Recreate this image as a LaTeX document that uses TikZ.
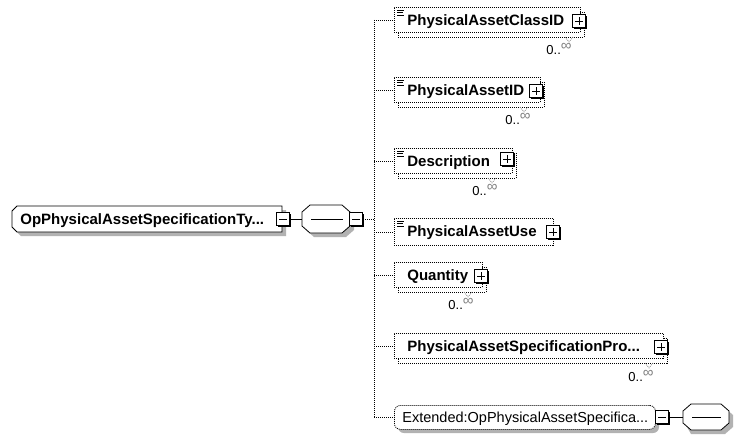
\documentclass[tikz,border=0pt]{standalone}
\usepackage{fontspec}
\setmainfont{Liberation Sans}
\usetikzlibrary{calc,shadows}
\newcommand\eqicon[1]{\draw[line width=0.6pt] ([shift={(3,3)}]#1.north west) -- ++(7,0) ([shift={(3,5.5)}]#1.north west) -- ++(6,0) ([shift={(3,8)}]#1.north west) -- ++(7,0);}
\newcommand\infsym{\raisebox{3.5pt}{\fontsize{15}{15}\selectfont\color{black!50}∞}}
\begin{document}
\begin{tikzpicture}[x=1pt,y=-1pt,line width=0.8pt,
  dots/.style={line width=0.8pt, dash pattern=on 1pt off 1pt},
  gdots/.style={line width=0.7pt, dash pattern=on 1pt off 1pt, draw=black!45},
  elbox/.style={draw, dots, fill=white, inner sep=0pt, anchor=north west, rectangle},
  shade/.style={fill=black!30, draw=none},
  bt/.style={font=\fontsize{15}{18}\selectfont\bfseries, inner sep=0pt, anchor=base west},
  rt/.style={font=\fontsize{14.5}{18}\selectfont, inner sep=0pt, anchor=base west},
  mult/.style={font=\fontsize{13}{15}\selectfont, inner sep=0pt, anchor=base west},
  pm/.style={draw, solid, fill=white, line width=0.8pt, minimum size=13pt, inner sep=0pt,
    general shadow={fill=black, shadow xshift=1.5pt, shadow yshift=-1.5pt}},
  plusb/.style={pm, path picture={\draw[line width=0.8pt]
      ($(path picture bounding box.west)+(2.5,0)$) -- ($(path picture bounding box.east)+(-2.5,0)$)
      ($(path picture bounding box.north)+(0,2.5)$) -- ($(path picture bounding box.south)+(0,-2.5)$);}},
  minusb/.style={pm, path picture={\draw[line width=0.8pt]
      ($(path picture bounding box.west)+(2.5,0)$) -- ($(path picture bounding box.east)+(-2.5,0)$);}}
]
\useasboundingbox[fill=white] (0,0) rectangle (754,442);

% ---------- root element ----------
\fill[shade] (21,210) -- (286,210) -- (286,236) -- (21,236) -- (16,231) -- (16,215) -- cycle;
\draw[fill=white] (17,206) -- (282,206) -- (282,232) -- (17,232) -- (12,227) -- (12,211) -- cycle;
\node[bt] (root) at (20,224) {OpPhysicalAssetSpecificationTy...};
\node[minusb] (rm) at (283,219) {};

% ---------- sequence compositor ----------
\fill[shade] (314,209) -- (346,209) -- (354,216) -- (354,230) -- (346,237) -- (314,237) -- (306,230) -- (306,216) -- cycle;
\draw[fill=white] (310,205) -- (342,205) -- (350,212) -- (350,226) -- (342,233) -- (310,233) -- (302,226) -- (302,212) -- cycle;
\coordinate (sqW) at (302,219);
\draw (311,219) -- (343,219);
\node[minusb] (sm) at (356,219) {};
\draw (rm.east) -- (sqW);

% ---------- children ----------
% 1 PhysicalAssetClassID
\node[elbox, minimum width=186pt, minimum height=25pt] (c1s) at (398,12) {};
\node[elbox, minimum width=186pt, minimum height=25pt] (c1) at (394,7) {};
\eqicon{c1}
\node[bt] (t1) at ([shift={(13,18)}]c1.north west) {PhysicalAssetClassID};
\node[plusb] (p1) at (579,21) {};
\draw[gdots] (565,37) -- (569,42) -- (573,37);
\node[mult] (m1) at (546,54) {0..\infsym};

% 2 PhysicalAssetID
\node[elbox, minimum width=146pt, minimum height=25pt] (c2s) at (398,82) {};
\node[elbox, minimum width=146pt, minimum height=25pt] (c2) at (394,77) {};
\eqicon{c2}
\node[bt] (t2) at ([shift={(13,18)}]c2.north west) {PhysicalAssetID};
\node[plusb] (p2) at (536,91) {};
\draw[gdots] (520,107) -- (524,112) -- (528,107);
\node[mult] (m2) at (505,124) {0..\infsym};

% 3 Description
\node[elbox, minimum width=118pt, minimum height=25pt] (c3s) at (398,153) {};
\node[elbox, minimum width=118pt, minimum height=25pt] (c3) at (394,148) {};
\eqicon{c3}
\node[bt] (t3) at ([shift={(13,18)}]c3.north west) {Description};
\node[plusb] (p3) at (507,159) {};
\draw[gdots] (488,178) -- (492,183) -- (496,178);
\node[mult] (m3) at (472,195) {0..\infsym};

% 4 PhysicalAssetUse
\node[elbox, minimum width=159pt, minimum height=27pt] (c4) at (394,218) {};
\eqicon{c4}
\node[bt] (t4) at ([shift={(13,18)}]c4.north west) {PhysicalAssetUse};
\node[plusb] (p4) at (553,232) {};

% 5 Quantity
\node[elbox, minimum width=88pt, minimum height=25pt] (c5s) at (398,267) {};
\node[elbox, minimum width=88pt, minimum height=25pt] (c5) at (394,262) {};
\node[bt] (t5) at ([shift={(13,18)}]c5.north west) {Quantity};
\node[plusb] (p5) at (481,276) {};
\draw[gdots] (464,292) -- (468,297) -- (472,292);
\node[mult] (m5) at (448,309) {0..\infsym};

% 6 PhysicalAssetSpecificationPro...
\node[elbox, minimum width=269pt, minimum height=25pt] (c6s) at (398,338) {};
\node[elbox, minimum width=269pt, minimum height=25pt] (c6) at (394,333) {};
\node[bt] (t6) at ([shift={(13,18)}]c6.north west) {PhysicalAssetSpecificationPro...};
\node[plusb] (p6) at (661,347) {};
\draw[gdots] (645,363) -- (649,368) -- (653,363);
\node[mult] (m6) at (628,381) {0..\infsym};

% 7 Extended:...
\fill[shade, rounded corners=6pt] (398,409) rectangle (659,433);
\node[elbox, rounded corners=6pt, minimum width=261pt, minimum height=24pt] (c7) at (394,405) {};
\node[rt] (t7) at (402,422) {Extended:OpPhysicalAssetSpecifica...};
\node[minusb] (p7) at (662,417) {};
\fill[shade] (691,408) -- (725,408) -- (733,415) -- (733,427) -- (725,434) -- (691,434) -- (687,427) -- (687,415) -- cycle;
\draw[fill=white] (691,404) -- (721,404) -- (729,411) -- (729,423) -- (721,430) -- (691,430) -- (683,423) -- (683,411) -- cycle;
\coordinate (oW) at (683,417);
\draw (692,417) -- (721,417);
\draw (p7.east) -- (oW);

% ---------- connectors ----------
\coordinate (vt) at (374,20);
\coordinate (vb) at (374,417);
\draw[dots] (sm.east) -- (sm.east -| vt);
\draw[dots] (c1.west -| vt) -- (c7.west -| vt);
\foreach \c in {c1,c2,c3,c4,c5,c6,c7} \draw[dots] (\c.west -| vt) -- (\c.west);
\end{tikzpicture}
\end{document}
